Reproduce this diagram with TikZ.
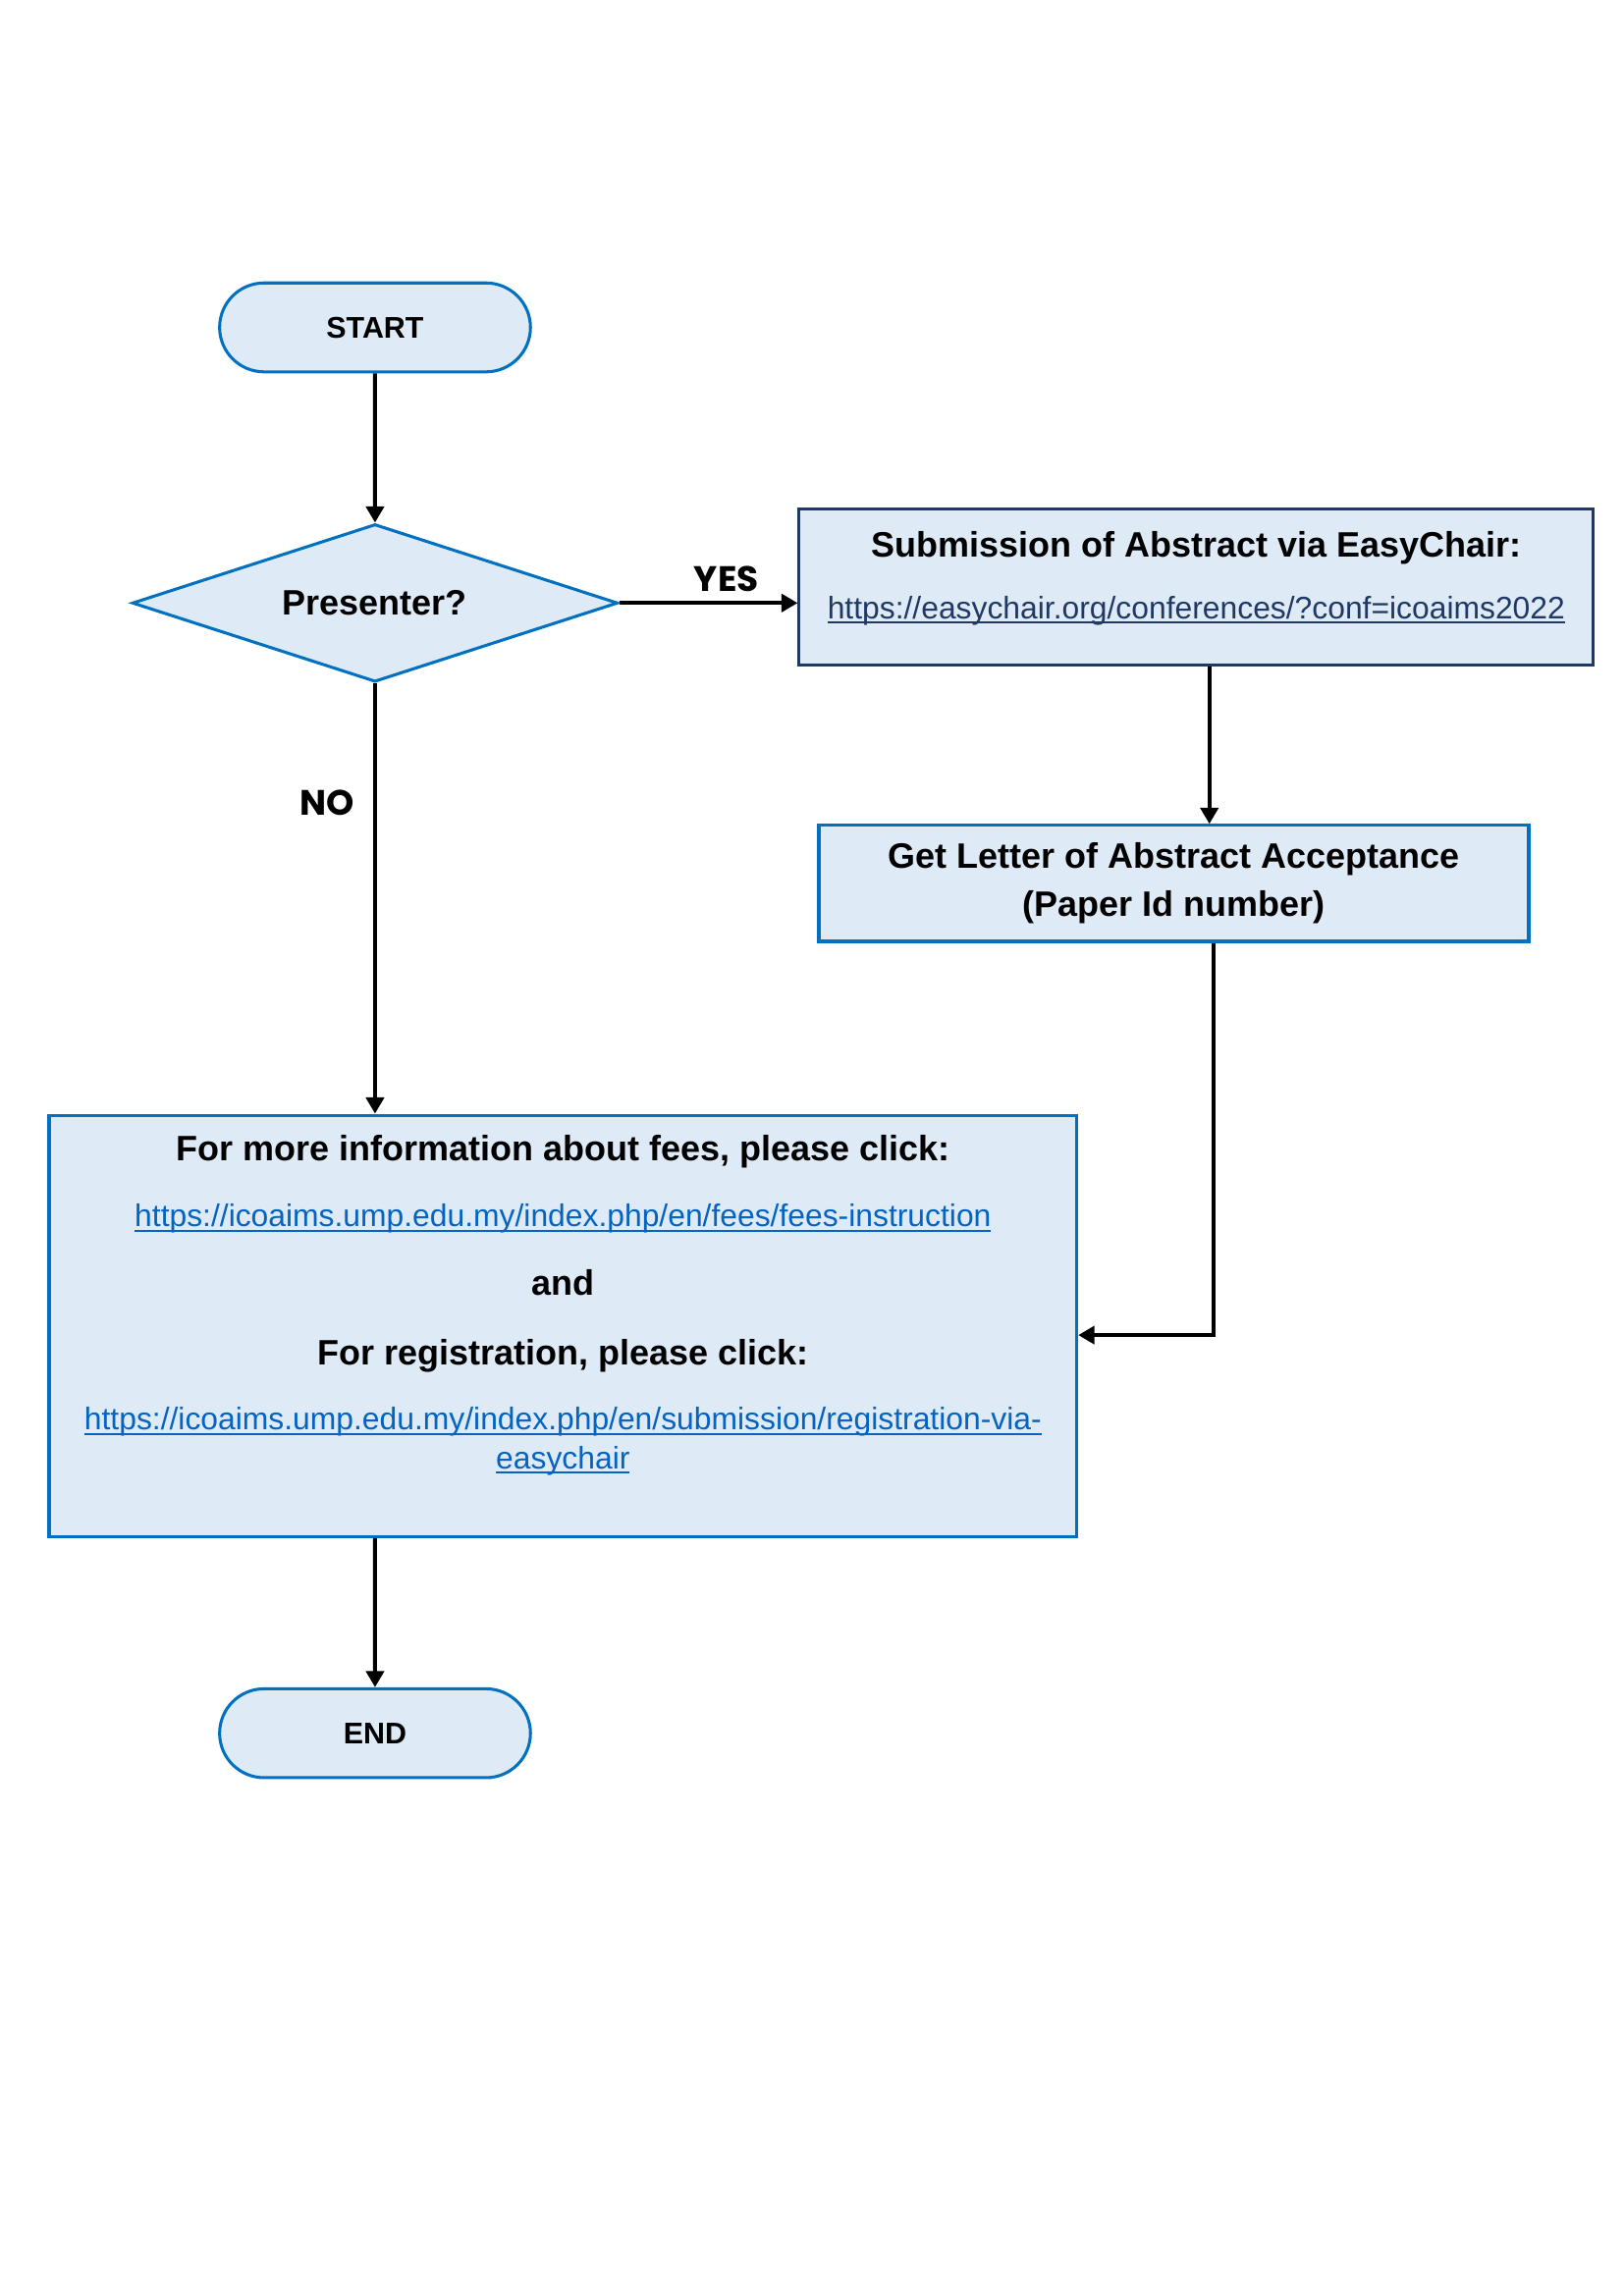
\documentclass[tikz,border=0pt]{standalone}
\usepackage{fontspec}
\setmainfont{Liberation Sans}
\newfontfamily\lblfont{Poppins}
\usepackage{tikz}
\usetikzlibrary{
    arrows.meta,
    shapes.geometric,
    shapes.misc
}

\definecolor{boxfill}{HTML}{DEEBF7}
\definecolor{boxline}{HTML}{0070C0}
\definecolor{navy}{HTML}{203864}
\definecolor{linkblue}{HTML}{0563C1}

% underlined link text
\newcommand{\ulink}[1]{\setbox0\hbox{#1}\rlap{\rule[-1.7pt]{\wd0}{0.6pt}}\box0}

\begin{document}
\begin{tikzpicture}[
    term/.style={rounded rectangle, draw=boxline, fill=boxfill, line width=1.1pt,
        minimum width=4.02cm, minimum height=1.15cm, inner sep=0pt,
        font=\fontsize{11}{13}\selectfont\bfseries},
    box/.style={rectangle, draw=boxline, fill=boxfill, line width=1.1pt, inner sep=0pt},
    head/.style={anchor=base, font=\fontsize{13}{17}\selectfont\bfseries},
    url/.style={anchor=base, font=\fontsize{11.5}{14}\selectfont, text=linkblue},
    lbl/.style={font=\fontsize{13}{15}\selectfont\lblfont\bfseries},
    arr/.style={-{Triangle[width=0.23cm,length=0.21cm]}, line width=1.45pt}
]

\useasboundingbox (0,0) rectangle (21,-29.7);

% Start
\node[term] (start) at (4.85,-4.235) {START};

% Decision
\node[diamond, draw=boxline, fill=boxfill, line width=1.1pt, inner sep=0pt,
    aspect=3.08, minimum width=6.28cm, minimum height=2.04cm,
    font=\fontsize{13}{15}\selectfont\bfseries] (dec) at (4.85,-7.80) {Presenter?};

% Submission box
\node[box, draw=navy, minimum width=10.27cm, minimum height=2.03cm] (sub) at (15.47,-7.593) {};
\node[head] (subt) at (15.47,-7.20) {Submission of Abstract via EasyChair:};
\node[url, text=navy] (subu) at (15.47,-8.0) {\ulink{https://easychair.org/conferences/?conf=icoaims2022}};

% Letter of acceptance
\node[box, minimum width=9.18cm, minimum height=1.50cm, align=center,
    font=\fontsize{13}{17.6}\selectfont\bfseries] (let) at (15.18,-11.427)
    {Get Letter of Abstract Acceptance\\(Paper Id number)};

% Fees and registration
\node[box, minimum width=13.29cm, minimum height=5.45cm] (big) at (7.28,-17.15) {};
\node[head] (fees) at (7.28,-15.02) {For more information about fees, please click:};
\node[url] (feesurl) at (7.28,-15.87) {\ulink{https://icoaims.ump.edu.my/index.php/en/fees/fees-instruction}};
\node[head] (and) at (7.28,-16.75) {and};
\node[head] (reg) at (7.28,-17.65) {For registration, please click:};
\node[url] (regurl) at (7.28,-18.50) {\ulink{https://icoaims.ump.edu.my/index.php/en/submission/registration-via-}};
\node[url] (regurl2) at (7.28,-19.00) {\ulink{easychair}};

% End
\node[term] (finish) at (4.85,-22.42) {END};

% Connectors
\coordinate (col) at (15.64,0);
\coordinate (bend) at (15.69,-17.27);

\draw[arr] (start) -- (dec);
\draw[arr] (dec.east) -- (dec.east -| sub.west) node[pos=0.6, above, lbl] (yes) {YES};
\draw[arr] (dec.south) -- (dec.south |- big.north) node[pos=0.277, left=0.12cm, lbl] (no) {NO};
\draw[arr] (sub.south -| col) -- (let.north -| col);
\draw[arr] (let.south -| bend) -- (bend) -- (bend -| big.east);
\draw[arr] (big.south -| finish) -- (finish);

\end{tikzpicture}
\end{document}
